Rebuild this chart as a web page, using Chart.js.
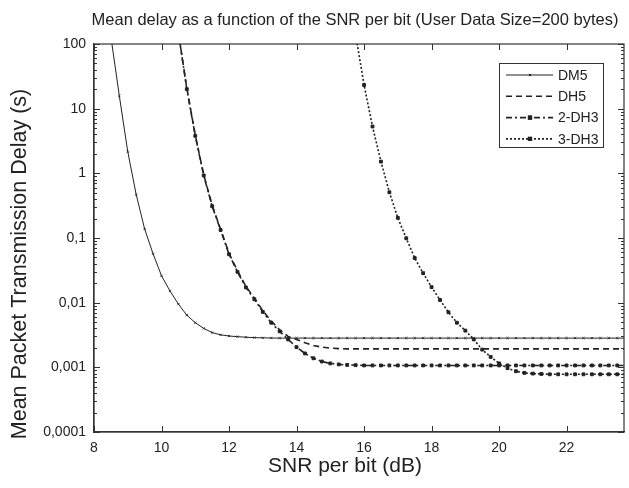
<!DOCTYPE html>
<html>
<head>
<meta charset="utf-8">
<script src="https://cdn.jsdelivr.net/npm/chart.js@4.4.1/dist/chart.umd.min.js"></script>
<style>
  html, body { margin: 0; padding: 0; background: #fff; }
  canvas { display: block; }
</style>
</head>
<body>
<canvas id="delayChart" width="629" height="488"></canvas>
<script>
// SNR per bit (dB), one point every 0.25 dB
const snr = [
    8, 8.25, 8.5, 8.75, 9, 9.25, 9.5, 9.75, 10, 10.25,
    10.5, 10.75, 11, 11.25, 11.5, 11.75, 12, 12.25, 12.5, 12.75,
    13, 13.25, 13.5, 13.75, 14, 14.25, 14.5, 14.75, 15, 15.25,
    15.5, 15.75, 16, 16.25, 16.5, 16.75, 17, 17.25, 17.5, 17.75,
    18, 18.25, 18.5, 18.75, 19, 19.25, 19.5, 19.75, 20, 20.25,
    20.5, 20.75, 21, 21.25, 21.5, 21.75, 22, 22.25, 22.5, 22.75,
    23, 23.25, 23.5, 23.75
];

// mean delay (s)
const dm5 = [
    8000, 1500, 130, 15.8, 2.16, 0.47, 0.138, 0.057, 0.026, 0.0152,
    0.0095, 0.0064, 0.0049, 0.0040, 0.00345, 0.00318, 0.00305, 0.00298, 0.00292, 0.00288,
    0.00286, 0.00284, 0.00283, 0.00283, 0.00283, 0.00283, 0.00283, 0.00283, 0.00283, 0.00283,
    0.00283, 0.00283, 0.00283, 0.00283, 0.00283, 0.00283, 0.00283, 0.00283, 0.00283, 0.00283,
    0.00283, 0.00283, 0.00283, 0.00283, 0.00283, 0.00283, 0.00283, 0.00283, 0.00283, 0.00283,
    0.00283, 0.00283, 0.00283, 0.00283, 0.00283, 0.00283, 0.00283, 0.00283, 0.00283, 0.00283,
    0.00283, 0.00283, 0.00283, 0.00283
];
const dh5 = [
    null, null, null, null, null, null, null, null, null, 2000,
    150, 20.7, 3.9, 0.95, 0.32, 0.137, 0.058, 0.031, 0.0178, 0.0118,
    0.0075, 0.0052, 0.0038, 0.0030, 0.0027, 0.0024, 0.00218, 0.00205, 0.00198, 0.00195,
    0.00193, 0.00193, 0.00193, 0.00193, 0.00193, 0.00193, 0.00193, 0.00193, 0.00193, 0.00193,
    0.00193, 0.00193, 0.00193, 0.00193, 0.00193, 0.00193, 0.00193, 0.00193, 0.00193, 0.00193,
    0.00193, 0.00193, 0.00193, 0.00193, 0.00193, 0.00193, 0.00193, 0.00193, 0.00193, 0.00193,
    0.00193, 0.00193, 0.00193, 0.00193
];
const dh3_2 = [
    null, null, null, null, null, null, null, null, null, 2000,
    150, 20, 3.8, 0.93, 0.31, 0.133, 0.056, 0.030, 0.0172, 0.0113,
    0.0072, 0.0049, 0.0036, 0.0027, 0.00205, 0.00164, 0.00138, 0.00123, 0.00115, 0.00111,
    0.00109, 0.00108, 0.00107, 0.00107, 0.00107, 0.00107, 0.00107, 0.00107, 0.00107, 0.00107,
    0.00107, 0.00107, 0.00107, 0.00107, 0.00107, 0.00107, 0.00107, 0.00107, 0.00107, 0.00107,
    0.00107, 0.00107, 0.00107, 0.00107, 0.00107, 0.00107, 0.00107, 0.00107, 0.00107, 0.00107,
    0.00107, 0.00107, 0.00107, 0.00107
];
const dh3_3 = [
    null, null, null, null, null, null, null, null, null, null,
    null, null, null, null, null, null, null, null, null, null,
    null, null, null, null, null, null, null, null, null, null,
    1500, 140, 23.2, 5.3, 1.52, 0.51, 0.205, 0.099, 0.049, 0.0286,
    0.0174, 0.011, 0.0071, 0.0049, 0.0037, 0.0027, 0.00188, 0.00145, 0.00115, 0.00097,
    0.00087, 0.00082, 0.0008, 0.00079, 0.00078, 0.00078, 0.00078, 0.00078, 0.00078, 0.00078,
    0.00078, 0.00078, 0.00078, 0.00078
];

const xTicks = [8, 10, 12, 14, 16, 18, 20, 22];
const yTicks = [0.0001, 0.001, 0.01, 0.1, 1, 10, 100];
const yTickLabels = ["0,0001", "0,001", "0,01", "0,1", "1", "10", "100"];

const FONT = "'Liberation Sans', Arial, sans-serif";
const INK = "#222";

function pts(values) {
    return snr.map((x, i) => ({ x: x, y: values[i] }));
}

// 📌 frame, inward ticks, titles and boxed legend
const decorPlugin = {
    id: "decor",
    afterDatasetsDraw(chart) {
        const ctx = chart.ctx;
        const a = chart.chartArea;
        const xs = chart.scales.x;
        const ys = chart.scales.y;
        ctx.save();
        ctx.strokeStyle = "#333";
        ctx.lineWidth = 1.2;
        ctx.strokeRect(a.left, a.top, a.right - a.left, a.bottom - a.top);

        ctx.lineWidth = 1;
        ctx.beginPath();
        xTicks.forEach((v) => {
            let px = Math.round(xs.getPixelForValue(v)) + 0.5;
            ctx.moveTo(px, a.bottom); ctx.lineTo(px, a.bottom - 6);
            ctx.moveTo(px, a.top); ctx.lineTo(px, a.top + 6);
        });
        yTicks.forEach((v, i) => {
            let py = Math.round(ys.getPixelForValue(v)) + 0.5;
            ctx.moveTo(a.left, py); ctx.lineTo(a.left + 6, py);
            ctx.moveTo(a.right, py); ctx.lineTo(a.right - 6, py);
            if (i < yTicks.length - 1) {
                for (let m = 2; m <= 9; m++) {
                    let pm = Math.round(ys.getPixelForValue(v * m)) + 0.5;
                    ctx.moveTo(a.left, pm); ctx.lineTo(a.left + 3, pm);
                    ctx.moveTo(a.right, pm); ctx.lineTo(a.right - 3, pm);
                }
            }
        });
        ctx.stroke();

        // titles
        ctx.fillStyle = INK;
        ctx.textAlign = "center";
        ctx.textBaseline = "middle";
        ctx.font = "16.5px " + FONT;
        ctx.fillText("Mean delay as a function of the SNR per bit (User Data Size=200 bytes)", 355, 20);
        ctx.font = "21px " + FONT;
        ctx.fillText("SNR per bit (dB)", 345, 466);
        ctx.save();
        ctx.translate(20, 264);
        ctx.rotate(-Math.PI / 2);
        ctx.font = "21.5px " + FONT;
        ctx.fillText("Mean Packet Transmission Delay (s)", 0, 0);
        ctx.restore();

        // legend box
        let bx = 499, by = 63, bw = 104, bh = 84;
        ctx.fillStyle = "#fff";
        ctx.fillRect(bx, by, bw, bh);
        ctx.strokeStyle = "#333";
        ctx.lineWidth = 1;
        ctx.strokeRect(bx + 0.5, by + 0.5, bw, bh);
        chart.data.datasets.forEach((ds, i) => {
            let ly = 75 + i * 21.3;
            ctx.strokeStyle = ds.borderColor;
            ctx.lineWidth = ds.borderWidth;
            ctx.setLineDash(ds.borderDash || []);
            ctx.beginPath();
            ctx.moveTo(506, ly); ctx.lineTo(553, ly);
            ctx.stroke();
            ctx.setLineDash([]);
            if (ds.pointRadius > 0) {
                Chart.helpers.drawPoint(ctx, {
                    pointStyle: ds.pointStyle, radius: ds.pointRadius,
                    borderWidth: 1, rotation: 0
                }, 530, ly);
                ctx.fillStyle = ds.pointBackgroundColor;
                if (ds.pointStyle === "rect") {
                    ctx.fillRect(530 - 2, ly - 2, 4, 4);
                }
            }
            ctx.fillStyle = INK;
            ctx.textAlign = "left";
            ctx.font = "14px " + FONT;
            ctx.fillText(ds.label, 558, ly + 1);
        });
        ctx.restore();
    }
};

new Chart(document.getElementById("delayChart"), {
    type: "line",
    data: {
        datasets: [
            {
                label: "DM5", data: pts(dm5),
                borderColor: INK, borderWidth: 1,
                pointStyle: "crossRot", pointRadius: 1.6,
                pointBorderColor: INK, pointBackgroundColor: INK, pointBorderWidth: 0.8
            },
            {
                label: "DH5", data: pts(dh5),
                borderColor: INK, borderWidth: 1.6, borderDash: [6, 4],
                pointRadius: 0
            },
            {
                label: "2-DH3", data: pts(dh3_2),
                borderColor: INK, borderWidth: 1.6, borderDash: [6, 3, 2, 3],
                pointStyle: "rect", pointRadius: 2,
                pointBorderColor: INK, pointBackgroundColor: INK, pointBorderWidth: 1
            },
            {
                label: "3-DH3", data: pts(dh3_3),
                borderColor: INK, borderWidth: 1.6, borderDash: [2, 2],
                pointStyle: "rect", pointRadius: 2,
                pointBorderColor: INK, pointBackgroundColor: INK, pointBorderWidth: 1
            }
        ]
    },
    options: {
        responsive: false,
        animation: false,
        layout: { padding: { top: 44, right: 2, left: 0, bottom: 0 } },
        plugins: {
            legend: { display: false },
            title: { display: false },
            tooltip: { enabled: false }
        },
        elements: { line: { tension: 0 } },
        scales: {
            x: {
                type: "linear", min: 8, max: 23.7,
                grid: { display: false, drawTicks: false },
                border: { display: true, color: "#333", width: 1.2 },
                afterBuildTicks: (scale) => { scale.ticks = xTicks.map((v) => ({ value: v })); },
                afterFit: (scale) => { scale.height = 56; },
                ticks: {
                    color: INK, padding: 8, maxRotation: 0, autoSkip: false,
                    font: { family: FONT, size: 14 }
                }
            },
            y: {
                type: "logarithmic", min: 0.0001, max: 100,
                grid: { display: false, drawTicks: false },
                border: { display: true, color: "#333", width: 1.2 },
                afterBuildTicks: (scale) => { scale.ticks = yTicks.map((v) => ({ value: v })); },
                afterFit: (scale) => { scale.width = 94; },
                ticks: {
                    color: INK, padding: 8, autoSkip: false,
                    font: { family: FONT, size: 14 },
                    callback: (value, index) => yTickLabels[index]
                }
            }
        }
    },
    plugins: [decorPlugin]
});
</script>
</body>
</html>
